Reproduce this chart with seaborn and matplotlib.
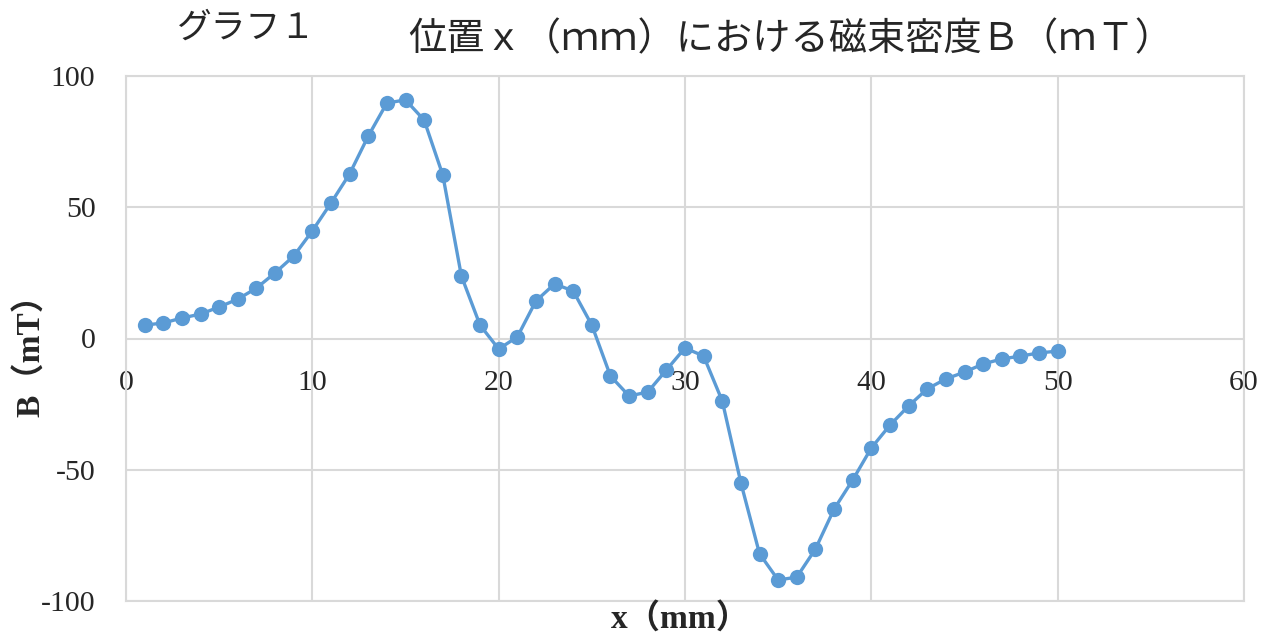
import numpy as np
import pandas as pd
import matplotlib
matplotlib.use("Agg")
import matplotlib.pyplot as plt
import seaborn as sns

# Position x (mm) and measured flux density B (mT)
position_mm = list(range(1, 51))
flux_mT = [
    5.1, 5.9, 7.8, 9.3, 12.0, 15.0, 19.2, 25.0, 31.4, 41.0,
    51.6, 62.7, 77.1, 89.7, 90.9, 83.2, 62.3, 23.8, 5.1, -4.0,
    0.6, 14.3, 20.8, 18.1, 5.1, -14.3, -21.9, -20.4, -12.0, -3.6,
    -6.7, -23.8, -55.0, -82.0, -92.0, -90.9, -80.2, -65.0, -53.9, -41.7,
    -33.0, -25.7, -19.2, -15.4, -12.8, -9.7, -7.8, -6.7, -5.5, -4.8,
]
x_ticks = [0, 10, 20, 30, 40, 50, 60]
y_ticks = [-100, -50, 0, 50, 100]

chart_label = "グラフ１"
title_text = "位置ｘ（ｍｍ）における磁束密度Ｂ（ｍＴ）"
x_label = "x（mm）"
y_label = "B（mT）"

sns.set_style("white")
plt.rcParams["font.family"] = ["Liberation Serif", "Noto Sans CJK JP", "DejaVu Sans"]

df = pd.DataFrame({"x": position_mm, "B": flux_mT})

fig = plt.figure(figsize=(12.74, 6.37), dpi=100)
ax = fig.add_axes([126 / 1274, 1 - 601 / 637, (1244 - 126) / 1274, (601 - 76) / 637])

grid_color = "#D9D9D9"
line_color = "#5B9BD5"

sns.lineplot(data=df, x="x", y="B", ax=ax, color=line_color, linewidth=2.4,
             marker="o", markersize=11, markeredgewidth=0, zorder=3)

ax.set_xlim(0, 60)
ax.set_ylim(-100, 100)
ax.set_xticks(x_ticks)
ax.set_yticks(y_ticks)
ax.grid(True, color=grid_color, linewidth=1.5)
for s in ax.spines.values():
    s.set_color(grid_color)
    s.set_linewidth(1.5)

ax.tick_params(axis="y", length=0, pad=22, labelsize=21.5)
ax.tick_params(axis="x", length=0, labelbottom=False)
ax.set_yticklabels([str(v) for v in y_ticks])
ax.set_xlabel("")
ax.set_ylabel("")

# Category labels sit along the zero line
sec = ax.secondary_xaxis(0.5)
sec.set_alignment("bottom")
sec.set_xticks(x_ticks)
sec.set_xticklabels([str(v) for v in x_ticks])
sec.tick_params(axis="x", length=0, pad=23, labelsize=21.5)
for s in sec.spines.values():
    s.set_visible(False)

fig.text(680 / 1274, 1 - 619 / 637, x_label, ha="center", va="center",
         fontsize=24, fontweight="bold")
fig.text(30 / 1274, 1 - 347 / 637, y_label, ha="center", va="center",
         rotation=90, fontsize=24, fontweight="bold")

fig.text(246 / 1274, 1 - 28 / 637, chart_label, ha="center", va="center",
         fontsize=25, family=["Noto Sans CJK JP", "DejaVu Sans"])
fig.text(791 / 1274, 1 - 40 / 637, title_text, ha="center", va="center",
         fontsize=27.5, family=["Noto Sans CJK JP", "DejaVu Sans"])

fig.savefig("out.png", dpi=100)
